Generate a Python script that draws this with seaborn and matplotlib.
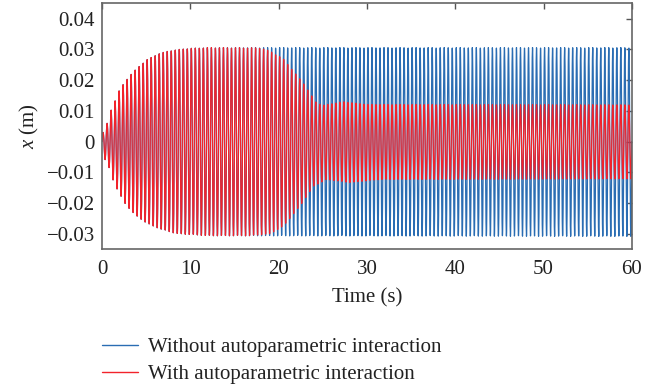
import numpy as np
import pandas as pd
import matplotlib
matplotlib.use("Agg")
import matplotlib.pyplot as plt
import seaborn as sns

# ---- data ----
series_names = ["Without autoparametric interaction", "With autoparametric interaction"]
series_colors = ["#2a6db3", "#f2232b"]
carrier_freq_hz = 2.2  # oscillation frequency (approx.)

# envelope key points, series 1 (without interaction)
blue_up_t = [0, 0.2, 0.7, 1.1, 1.6, 2.0, 2.5, 3.0, 3.9, 5.05, 6.4, 7.7, 9.6, 12, 60]
blue_up_v = [0.003, 0.003, 0.007, 0.011, 0.014, 0.017, 0.019, 0.021, 0.0237, 0.0266, 0.0286, 0.0296, 0.0303, 0.0306, 0.0306]
blue_lo_t = [0, 0.2, 0.9, 1.3, 1.8, 2.7, 3.7, 5.1, 6.6, 8.4, 12, 60]
blue_lo_v = [-0.003, -0.005, -0.009, -0.0129, -0.016, -0.0205, -0.0237, -0.0266, -0.0284, -0.0299, -0.0306, -0.0308]

# envelope key points, series 2 (with interaction)
red_up_t = [0, 0.2, 0.7, 1.1, 1.6, 2.0, 2.5, 3.0, 3.9, 5.05, 6.4, 7.7, 9.6, 12, 17.9, 19.0, 20.5, 22.8, 24.3, 25.1, 27.3, 30, 60]
red_up_v = [0.003, 0.003, 0.007, 0.011, 0.014, 0.017, 0.019, 0.021, 0.0237, 0.0266, 0.0286, 0.0296, 0.0303, 0.0306, 0.0305, 0.0295, 0.027, 0.019, 0.0125, 0.0119, 0.013, 0.0121, 0.0120]
red_lo_t = [0, 0.2, 0.9, 1.3, 1.8, 2.7, 3.7, 5.1, 6.6, 8.4, 12, 16.8, 19.0, 20.5, 22.4, 23.9, 25.4, 28, 31.5, 60]
red_lo_v = [-0.003, -0.005, -0.009, -0.0129, -0.016, -0.0205, -0.0237, -0.0266, -0.0284, -0.0299, -0.0306, -0.0306, -0.0300, -0.0276, -0.021, -0.0146, -0.0123, -0.0133, -0.0123, -0.0121]

x_ticks = [0, 10, 20, 30, 40, 50, 60]
x_ticklabels = ["0", "10", "20", "30", "40", "50", "60"]
y_ticks = [-0.03, -0.02, -0.01, 0, 0.01, 0.02, 0.03, 0.04]
y_ticklabels = ["\u22120.03", "\u22120.02", "\u22120.01", "0", "0.01", "0.02", "0.03", "0.04"]

# ---- build signals ----
t = np.linspace(0, 60, 60 * 60 + 1)
carrier = np.sin(2 * np.pi * carrier_freq_hz * t)

def signal(up_t, up_v, lo_t, lo_v):
    up = np.interp(t, up_t, up_v)
    lo = np.interp(t, lo_t, lo_v)
    return np.where(carrier >= 0, up * carrier, -lo * carrier)

df_blue = pd.DataFrame({"t": t, "x": signal(blue_up_t, blue_up_v, blue_lo_t, blue_lo_v)})
df_red = pd.DataFrame({"t": t, "x": signal(red_up_t, red_up_v, red_lo_t, red_lo_v)})

# ---- style ----
sns.set_style("white")
plt.rcParams["font.family"] = ["Liberation Serif", "DejaVu Serif"]
plt.rcParams["mathtext.fontset"] = "custom"
plt.rcParams["mathtext.rm"] = "Liberation Serif"
plt.rcParams["mathtext.it"] = "Liberation Serif:italic"

FS = 15
fig = plt.figure(figsize=(6.69, 3.92), dpi=100)
ax = fig.add_axes([0.1525, 0.364, 0.792, 0.6276])

sns.lineplot(data=df_blue, x="t", y="x", ax=ax, color=series_colors[0], lw=0.9,
             estimator=None, sort=False, label=series_names[0])
sns.lineplot(data=df_red, x="t", y="x", ax=ax, color=series_colors[1], lw=0.9,
             estimator=None, sort=False, label=series_names[1])

ax.set_xlim(0, 60)
ax.set_ylim(-0.035, 0.045)
ax.set_xticks(x_ticks)
ax.set_xticklabels(x_ticklabels)
ax.set_yticks(y_ticks)
ax.set_yticklabels(y_ticklabels)
ax.tick_params(direction="in", length=4, width=1.0, color="#555555",
               top=True, right=True, labelsize=FS, labelcolor="#222222")
ax.tick_params(axis="x", pad=7.5)
ax.tick_params(axis="y", pad=5)
for s in ax.spines.values():
    s.set_color("#666666")
    s.set_linewidth(1.2)
ax.set_xlabel("Time (s)", fontsize=FS, color="#222222", labelpad=7)
ax.set_ylabel(r"$x$ (m)", fontsize=FS, color="#222222", labelpad=4)

ax.get_legend().remove()
handles, labels = ax.get_legend_handles_labels()
leg = fig.legend(handles, labels, loc="center left", bbox_to_anchor=(0.1525, 1 - 361 / 392),
                 frameon=False, fontsize=FS, handlelength=1.73, handletextpad=0.48,
                 labelspacing=0.35, borderaxespad=0, borderpad=0)
for h in leg.get_lines():
    h.set_linewidth(1.0)
for txt in leg.get_texts():
    txt.set_color("#222222")

fig.savefig("out.png", dpi=100)
